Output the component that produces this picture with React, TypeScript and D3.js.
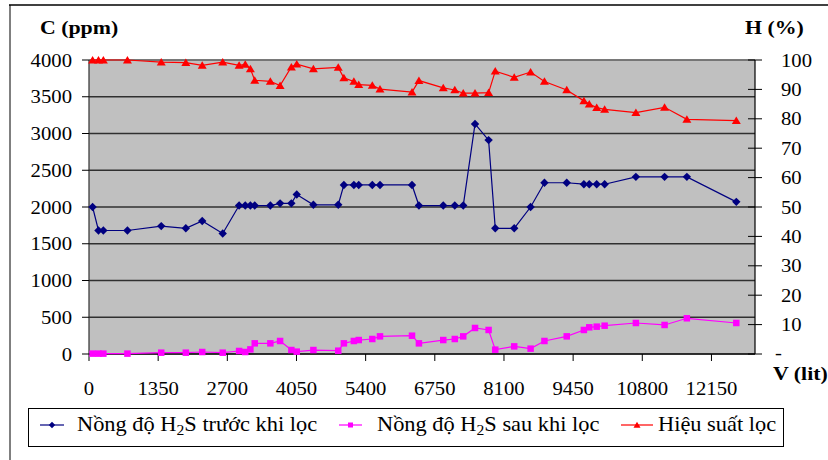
import React from "react";
import * as d3 from "d3";

const volume = [70, 185, 280, 750, 1410, 1890, 2210, 2610, 2930, 3050, 3150, 3235, 3540, 3730, 3950, 4055, 4380, 4865, 4975, 5170, 5265, 5530, 5680, 6305, 6440, 6915, 7140, 7305, 7535, 7800, 7930, 8300, 8620, 8890, 9325, 9660, 9765, 9910, 10065, 10675, 11235, 11670, 12635];
const before = [2000, 1680, 1680, 1680, 1740, 1710, 1810, 1640, 2020, 2020, 2020, 2020, 2020, 2050, 2050, 2170, 2030, 2030, 2300, 2300, 2300, 2300, 2300, 2300, 2020, 2020, 2020, 2020, 3130, 2910, 1710, 1710, 2000, 2330, 2330, 2310, 2310, 2310, 2310, 2410, 2410, 2410, 2070];
const after = [5, 5, 5, 5, 18, 18, 27, 18, 41, 27, 63, 145, 145, 177, 54, 32, 54, 45, 145, 177, 190, 204, 240, 249, 145, 190, 204, 240, 354, 327, 59, 104, 73, 177, 240, 327, 363, 372, 385, 422, 395, 486, 422];
const efficiency = [100, 100, 100, 100, 99.3, 99.1, 98.2, 99.3, 98.2, 98.5, 97, 93.1, 92.7, 91.3, 97.6, 98.6, 97.0, 97.5, 93.9, 92.7, 91.6, 91.4, 90.1, 89.1, 93.0, 90.5, 89.8, 88.7, 88.7, 88.9, 96.2, 94.1, 95.9, 92.7, 89.8, 86.1, 85.0, 83.8, 83.2, 82.1, 83.9, 79.8, 79.4];

const xTicks = [0, 1350, 2700, 4050, 5400, 6750, 8100, 9450, 10800, 12150];
const leftTicks = [0, 500, 1000, 1500, 2000, 2500, 3000, 3500, 4000];
const rightTicks = [0, 10, 20, 30, 40, 50, 60, 70, 80, 90, 100];
const rightTickLabels = ["-", "10", "20", "30", "40", "50", "60", "70", "80", "90", "100"];
const legendLabels = ["Nồng độ H2S trước khi lọc", "Nồng độ H2S sau khi lọc", "Hiệu suất lọc"];

const FONT = "Liberation Serif, Tinos, Times New Roman, DejaVu Serif, serif";
const SX = 1.12;

const T = ({ x, y, anchor = "start", size = 18.5, bold = false, children }: any) => (
  <text
    transform={`translate(${x},${y}) scale(${SX},1)`}
    textAnchor={anchor}
    style={{ fontFamily: FONT, fontSize: size, fontWeight: bold ? 700 : 400 }}
    fill="#000"
  >
    {children}
  </text>
);

const diamond = (r: number) => `M0,${-r}L${r},0L0,${r}L${-r},0Z`;
const square = (s: number) => `M${-s / 2},${-s / 2}h${s}v${s}h${-s}Z`;
const triangle = (w: number, h: number) => `M0,${-h * 0.55}L${w / 2},${h * 0.45}L${-w / 2},${h * 0.45}Z`;

const renderLabel = (label: string) => {
  const idx = label.indexOf("H2S");
  if (idx < 0) return label;
  return (
    <>
      {label.slice(0, idx)}H<tspan fontSize="0.7em" dy="4">2</tspan>
      <tspan dy="-4">S{label.slice(idx + 3)}</tspan>
    </>
  );
};

export default function App() {
  const L = 89, R = 755, TOP = 60, B = 354;
  const x = d3.scaleLinear().domain([0, 13000]).range([L, R]);
  const yL = d3.scaleLinear().domain([0, 4000]).range([B, TOP]);
  const yR = d3.scaleLinear().domain([0, 100]).range([B, TOP]);

  const lineL = (vals: number[]) =>
    d3.line<number>().x((_, i) => x(volume[i])).y((d) => yL(d))(vals) || "";
  const lineR = (vals: number[]) =>
    d3.line<number>().x((_, i) => x(volume[i])).y((d) => yR(d))(vals) || "";

  const colors = ["#000080", "#FF00FF", "#FF0000"];
  const markers = [diamond(4.2), square(6.5), triangle(9, 7.5)];
  const legendMarkers = [diamond(3.2), square(5), triangle(7, 6)];
  const legendPos = [
    { x1: 40, x2: 64, tx: 77 },
    { x1: 339, x2: 362, tx: 377 },
    { x1: 621, x2: 653, tx: 658 },
  ];

  return (
    <svg
      width={828}
      height={460}
      style={{ position: "absolute", left: 0, top: 0, display: "block", background: "#fff" }}
    >
      <rect x={0} y={0} width={828} height={460} fill="#fff" />
      {/* outer frame */}
      <line x1={9} x2={828} y1={5} y2={5} stroke="#404040" strokeWidth={2} />
      <line x1={10} x2={10} y1={5} y2={460} stroke="#000" strokeWidth={1} />

      {/* plot area */}
      <rect x={L} y={TOP} width={R - L} height={B - TOP} fill="#C0C0C0" />
      {leftTicks.map((t) => (
        <line key={"g" + t} x1={L} x2={R} y1={yL(t)} y2={yL(t)} stroke="#303030" strokeWidth={1.5} />
      ))}
      <line x1={L} x2={R} y1={TOP} y2={TOP} stroke="#808080" strokeWidth={1.5} />

      {/* axes */}
      <line x1={L} x2={L} y1={TOP} y2={B} stroke="#303030" strokeWidth={1.2} />
      <line x1={R} x2={R} y1={TOP} y2={B} stroke="#000" strokeWidth={1.2} />
      <line x1={L} x2={R} y1={B} y2={B} stroke="#000" strokeWidth={1.2} />

      {leftTicks.map((t) => (
        <g key={"lt" + t}>
          <line x1={82} x2={L} y1={yL(t)} y2={yL(t)} stroke="#000" strokeWidth={1} />
          <T x={72} y={yL(t) + 6.5} anchor="end">{t}</T>
        </g>
      ))}
      {rightTicks.map((t, i) => (
        <g key={"rt" + t}>
          <line x1={748} x2={762} y1={yR(t)} y2={yR(t)} stroke="#000" strokeWidth={1} />
          <T x={t === 0 ? 775 : 781} y={yR(t) + (t === 0 ? 5 : 6.5)}>{rightTickLabels[i]}</T>
        </g>
      ))}
      {xTicks.map((t) => (
        <g key={"xt" + t}>
          <line x1={x(t)} x2={x(t)} y1={B} y2={B + 7} stroke="#000" strokeWidth={1} />
          <T x={x(t)} y={395} anchor="middle">{t}</T>
        </g>
      ))}

      {/* axis titles */}
      <T x={40} y={33.5} size={19.5} bold>C (ppm)</T>
      <T x={745} y={33.5} size={19.5} bold>H (%)</T>
      <T x={773} y={380} size={19.5} bold>V (lit)</T>

      {/* series */}
      <path d={lineL(before)} fill="none" stroke={colors[0]} strokeWidth={1.2} />
      <path d={lineL(after)} fill="none" stroke={colors[1]} strokeWidth={1.2} />
      <path d={lineR(efficiency)} fill="none" stroke={colors[2]} strokeWidth={1.2} />
      {before.map((v, i) => (
        <path key={"b" + i} d={markers[0]} transform={`translate(${x(volume[i])},${yL(v)})`} fill={colors[0]} />
      ))}
      {after.map((v, i) => (
        <path key={"a" + i} d={markers[1]} transform={`translate(${x(volume[i])},${yL(v)})`} fill={colors[1]} />
      ))}
      {efficiency.map((v, i) => (
        <path key={"e" + i} d={markers[2]} transform={`translate(${x(volume[i])},${yR(v)})`} fill={colors[2]} />
      ))}

      {/* legend */}
      <rect x={28.5} y={408.5} width={755} height={38} fill="#fff" stroke="#000" strokeWidth={1} />
      {legendLabels.map((lab, i) => {
        const p = legendPos[i];
        return (
          <g key={"lg" + i}>
            <line x1={p.x1} x2={p.x2} y1={425} y2={425} stroke={colors[i]} strokeWidth={1.2} />
            <path d={legendMarkers[i]} transform={`translate(${(p.x1 + p.x2) / 2},425)`} fill={colors[i]} />
            <T x={p.tx} y={431} size={20}>{renderLabel(lab)}</T>
          </g>
        );
      })}
    </svg>
  );
}
